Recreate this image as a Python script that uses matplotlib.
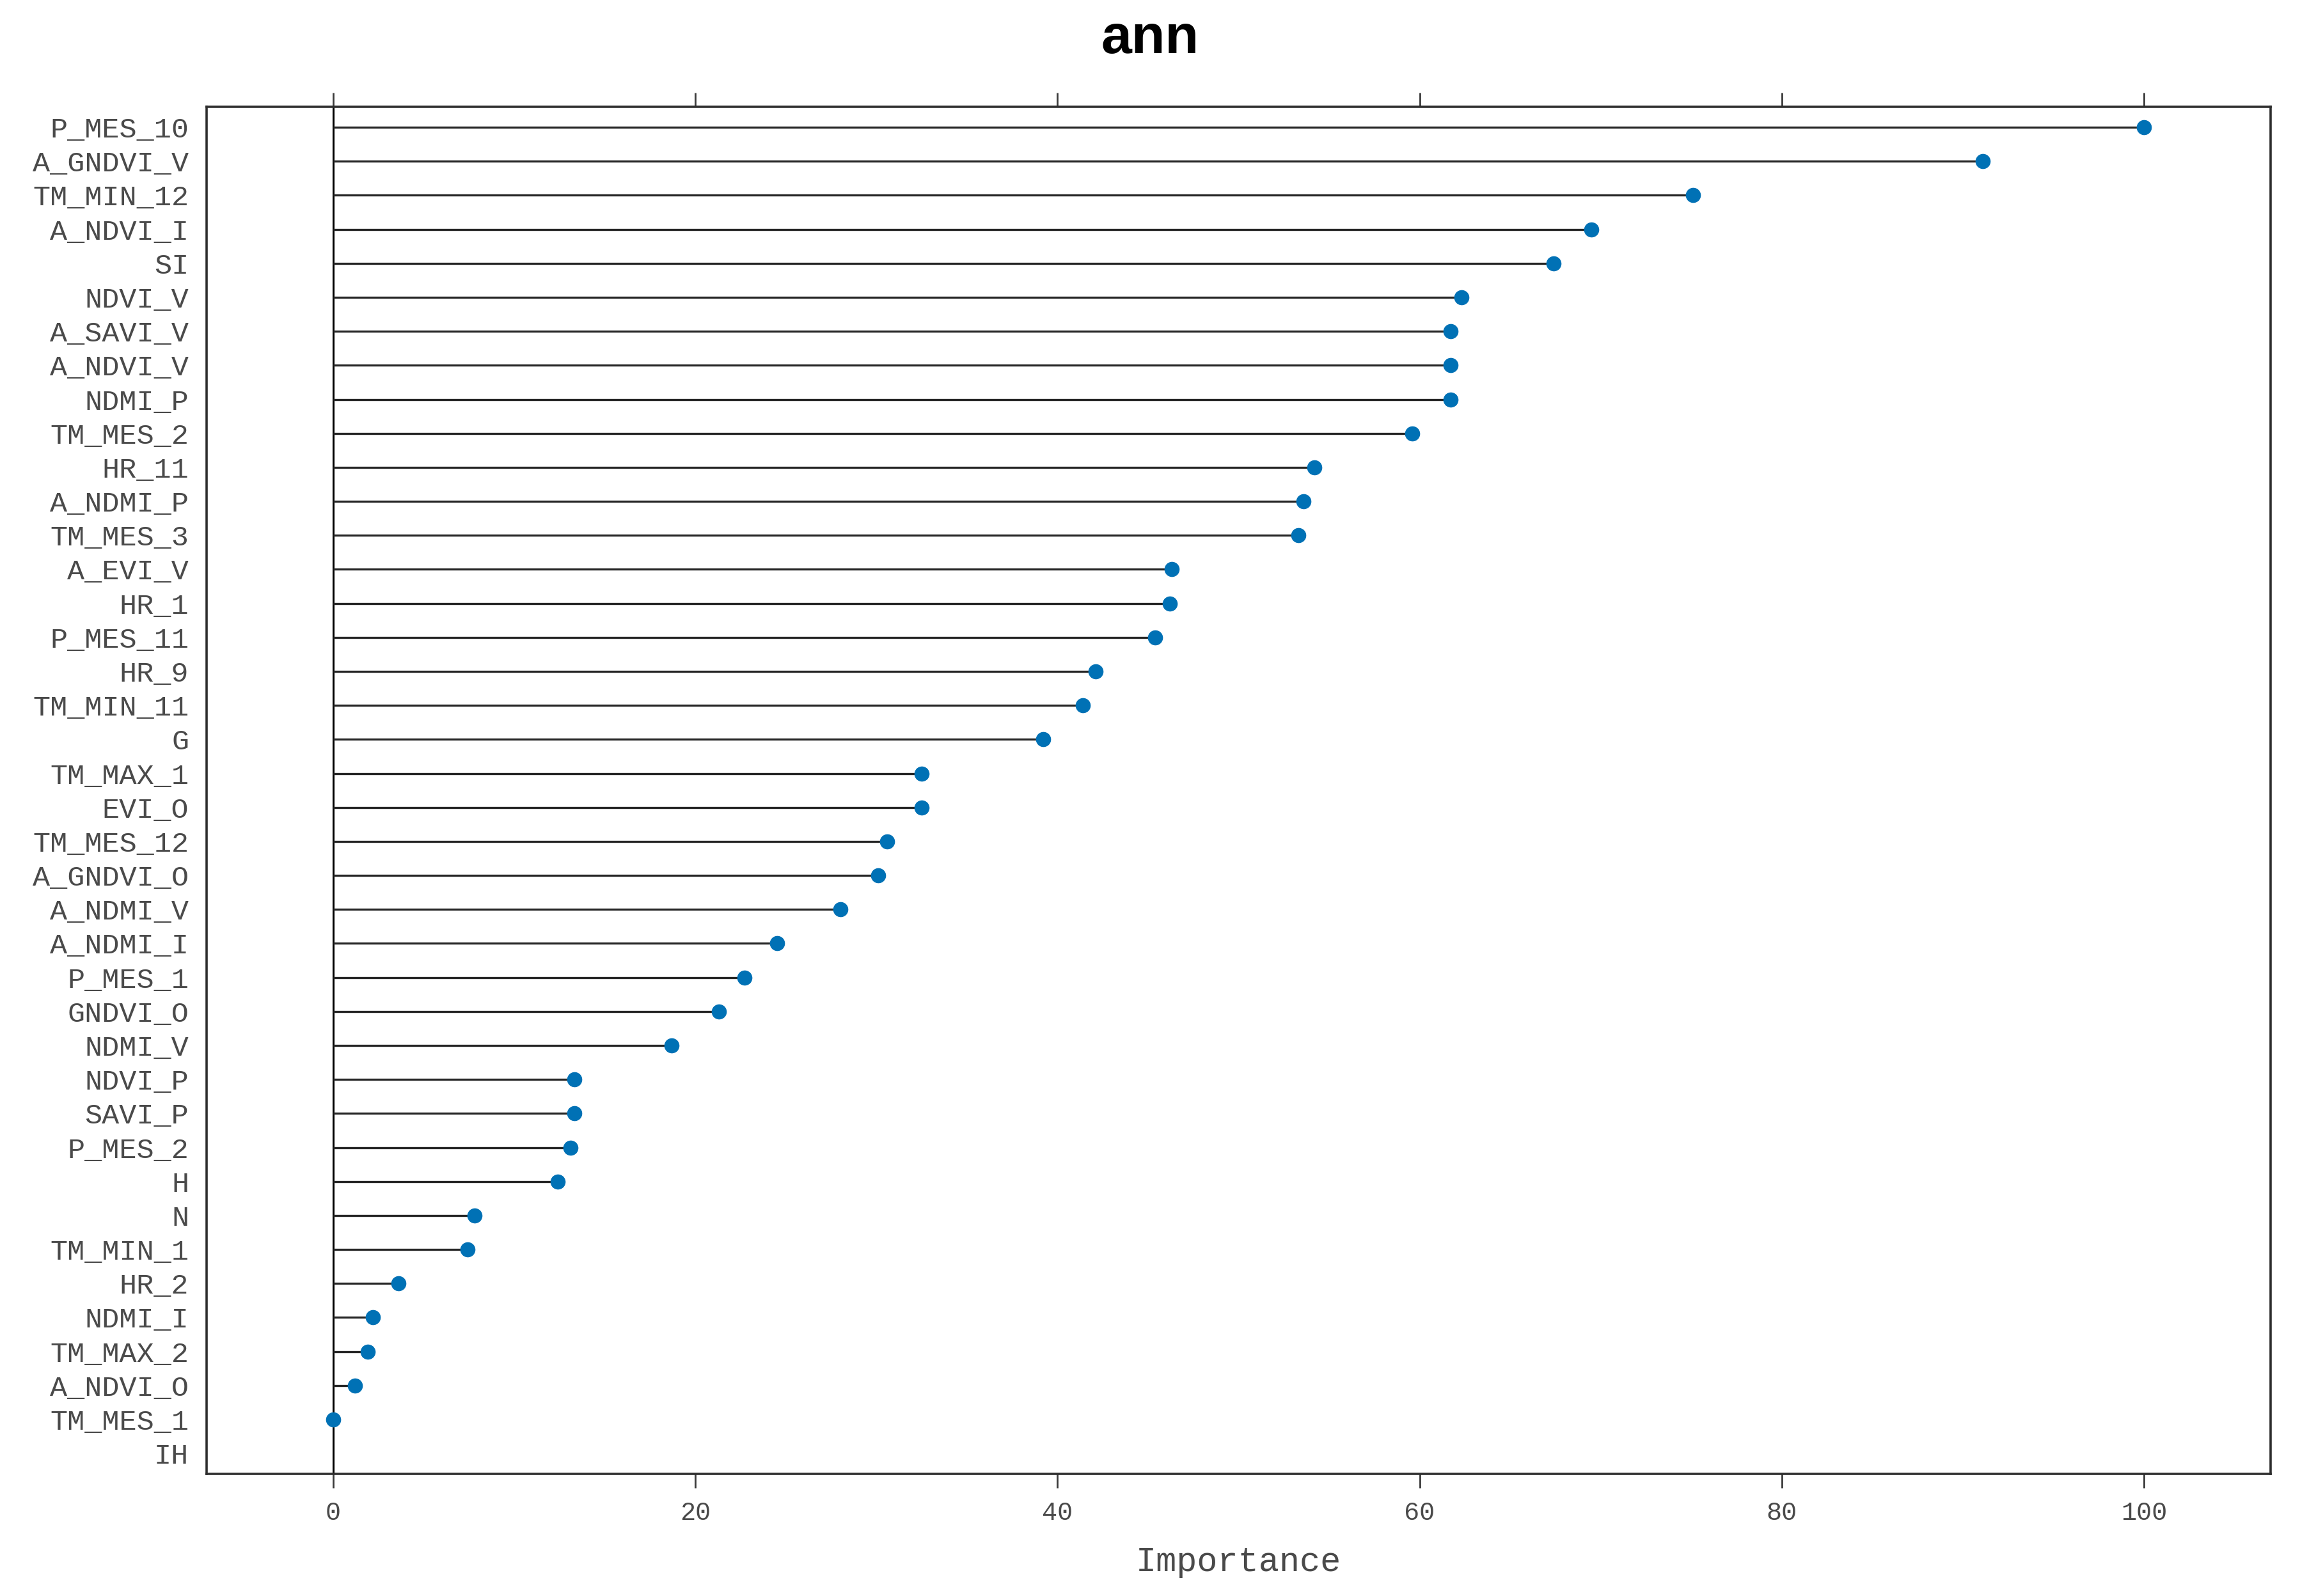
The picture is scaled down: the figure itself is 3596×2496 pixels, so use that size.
import numpy as np
import matplotlib
matplotlib.use('Agg')
from matplotlib import pyplot as plt

# variables, top to bottom
variables = ['P_MES_10', 'A_GNDVI_V', 'TM_MIN_12', 'A_NDVI_I', 'SI', 'NDVI_V',
             'A_SAVI_V', 'A_NDVI_V', 'NDMI_P', 'TM_MES_2', 'HR_11', 'A_NDMI_P',
             'TM_MES_3', 'A_EVI_V', 'HR_1', 'P_MES_11', 'HR_9', 'TM_MIN_11', 'G',
             'TM_MAX_1', 'EVI_O', 'TM_MES_12', 'A_GNDVI_O', 'A_NDMI_V', 'A_NDMI_I',
             'P_MES_1', 'GNDVI_O', 'NDMI_V', 'NDVI_P', 'SAVI_P', 'P_MES_2', 'H',
             'N', 'TM_MIN_1', 'HR_2', 'NDMI_I', 'TM_MAX_2', 'A_NDVI_O', 'TM_MES_1',
             'IH']
importance = [100.0, 91.1, 75.1, 69.5, 67.4, 62.3,
              61.7, 61.7, 61.7, 59.6, 54.2, 53.6,
              53.3, 46.3, 46.2, 45.4, 42.1, 41.4, 39.2,
              32.5, 32.5, 30.6, 30.1, 28.0, 24.5,
              22.7, 21.3, 18.7, 13.3, 13.3, 13.1, 12.4,
              7.8, 7.4, 3.6, 2.2, 1.9, 1.2, 0.0,
              np.nan]
xticks = [0, 20, 40, 60, 80, 100]

# -------------------------------------------------------------------------

mono = ['Liberation Mono', 'DejaVu Sans Mono']
grey = '#4a4a4a'

fig = plt.figure(figsize=(35.96, 24.96), dpi=100)
ax = fig.add_axes([0.0898, 0.0765, 0.8974, 0.8565])

n = len(variables)
ypos = np.arange(n, 0, -1)
vals = np.array(importance, dtype=float)
ok = ~np.isnan(vals)

ax.axvline(0, color='black', lw=2.2, zorder=2)
ax.hlines(ypos[ok], 0, vals[ok], color='#262626', lw=2.4, zorder=2)
ax.plot(vals[ok], ypos[ok], 'o', color='#0071B5', ms=16, mec='#0071B5', zorder=3)

ax.set_xlim(-7, 107)
ax.set_ylim(0.4, n + 0.6)

ax.set_yticks(ypos)
ax.set_yticklabels(variables, family=mono, fontsize=32.5, color=grey)
ax.tick_params(axis='y', length=0, pad=20)

ax.set_xticks(xticks)
ax.set_xticklabels([str(t) for t in xticks], family=mono, fontsize=29, color=grey)
ax.tick_params(axis='x', direction='out', length=16, width=2, color='#3a3a3a',
               top=True, bottom=True, labeltop=False, pad=14)

for s in ax.spines.values() :
  s.set_color('#2e2e2e')
  s.set_linewidth(2.6)

ax.set_xlabel('Importance', family=mono, fontsize=38.5, color=grey, labelpad=24)

fig.text(0.5, 0.9667, 'ann', ha='center', va='baseline', fontsize=62, fontweight='bold',
         family=['Liberation Sans', 'DejaVu Sans'])

fig.savefig('out.png', dpi=100, facecolor='white')
